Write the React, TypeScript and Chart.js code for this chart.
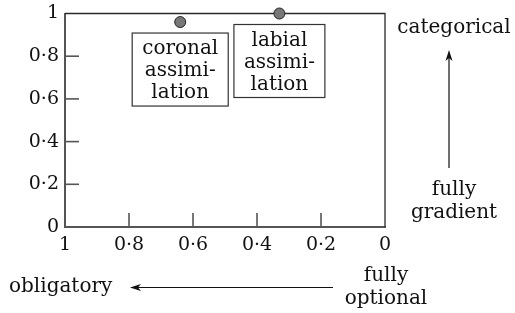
import React, { useEffect, useRef } from "react";
import { Chart, registerables } from "chart.js";

Chart.register(...registerables);

// ---- data ----
const processNames = ["coronal assimilation", "labial assimilation"];
const optionality = [0.64, 0.33]; // x: 1 = obligatory, 0 = fully optional
const categoricity = [0.96, 1.0]; // y: 1 = categorical, 0 = fully gradient
const boxLabels = [
  ["coronal", "assimi-", "lation"],
  ["labial", "assimi-", "lation"],
];
const innerTickValues = [0.2, 0.4, 0.6, 0.8];
const yPoleLabels = { top: ["categorical"], bottom: ["fully", "gradient"] };
const xPoleLabels = { left: ["obligatory"], right: ["fully", "optional"] };

const FONT = '"DejaVu Serif", "Liberation Serif", serif';
const TICK_SIZE = 19;
const TEXT_SIZE = 20;

const fmt = (v: number) => {
  const n = Number(Number(v).toFixed(1));
  return String(n).replace(".", "·");
};

function arrow(ctx: CanvasRenderingContext2D, x1: number, y1: number, x2: number, y2: number) {
  const ang = Math.atan2(y2 - y1, x2 - x1);
  const hl = 11;
  const hw = 3.5;
  const bx = x2 - Math.cos(ang) * hl;
  const by = y2 - Math.sin(ang) * hl;
  ctx.beginPath();
  ctx.moveTo(x1, y1);
  ctx.lineTo(bx + Math.cos(ang) * 3, by + Math.sin(ang) * 3);
  ctx.stroke();
  ctx.beginPath();
  ctx.moveTo(x2, y2);
  ctx.lineTo(bx - Math.sin(ang) * hw, by + Math.cos(ang) * hw);
  ctx.lineTo(bx + Math.cos(ang) * 3, by + Math.sin(ang) * 3);
  ctx.lineTo(bx + Math.sin(ang) * hw, by - Math.cos(ang) * hw);
  ctx.closePath();
  ctx.fill();
}

const decorPlugin = {
  id: "decor",
  beforeDatasetsDraw(chart: any) {
    const { ctx, chartArea: a, scales } = chart;
    const xs = scales.x;
    const ys = scales.y;
    ctx.save();
    // top & right frame
    ctx.strokeStyle = "#2a2a2a";
    ctx.lineWidth = 1.3;
    ctx.beginPath();
    ctx.moveTo(a.left, a.top);
    ctx.lineTo(a.right, a.top);
    ctx.lineTo(a.right, a.bottom);
    ctx.stroke();
    // inner ticks
    ctx.strokeStyle = "#555";
    ctx.lineWidth = 1.6;
    innerTickValues.forEach((v) => {
      const px = xs.getPixelForValue(v);
      ctx.beginPath();
      ctx.moveTo(px, a.bottom);
      ctx.lineTo(px, a.bottom - 14);
      ctx.stroke();
      const py = ys.getPixelForValue(v);
      ctx.beginPath();
      ctx.moveTo(a.left, py);
      ctx.lineTo(a.left + 14, py);
      ctx.stroke();
    });
    ctx.restore();
  },
  afterDatasetsDraw(chart: any) {
    const { ctx, chartArea: a, scales } = chart;
    const xs = scales.x;
    const ys = scales.y;
    ctx.save();
    ctx.font = `${TEXT_SIZE}px ${FONT}`;
    ctx.textAlign = "center";
    ctx.textBaseline = "alphabetic";
    // label boxes under each point
    processNames.forEach((_, i) => {
      const px = xs.getPixelForValue(optionality[i]);
      const py = ys.getPixelForValue(categoricity[i]);
      const lines = boxLabels[i];
      const w = Math.max(...lines.map((l) => ctx.measureText(l).width)) + 20;
      const h = 73;
      const top = py + 11;
      ctx.fillStyle = "#fff";
      ctx.fillRect(px - w / 2, top, w, h);
      ctx.strokeStyle = "#333";
      ctx.lineWidth = 1.2;
      ctx.strokeRect(px - w / 2, top, w, h);
      ctx.fillStyle = "#111";
      lines.forEach((l, j) => ctx.fillText(l, px, top + 21 + j * 22));
    });
    // pole labels and arrows
    const ax = a.right + 64;
    ctx.fillStyle = "#111";
    ctx.fillText(yPoleLabels.top[0], ax + 5, 33);
    yPoleLabels.bottom.forEach((l, j) => ctx.fillText(l, ax + 5, 195 + j * 23));
    ctx.strokeStyle = "#111";
    ctx.lineWidth = 1.2;
    arrow(ctx, ax, 168, ax, 50);
    ctx.textAlign = "left";
    ctx.fillText(xPoleLabels.left[0], 9, 292);
    ctx.textAlign = "center";
    xPoleLabels.right.forEach((l, j) => ctx.fillText(l, 386, 281 + j * 23));
    arrow(ctx, 333, 287.5, 130, 287.5);
    ctx.restore();
  },
};

export default function App() {
  const ref = useRef<HTMLCanvasElement>(null);
  useEffect(() => {
    if (!ref.current) return;
    const chart = new Chart(ref.current, {
      type: "scatter",
      data: {
        datasets: [
          {
            label: "processes",
            data: processNames.map((_, i) => ({ x: optionality[i], y: categoricity[i] })),
            backgroundColor: "#777",
            borderColor: "#222",
            borderWidth: 1,
            pointRadius: 5.5,
            clip: false as any,
          },
        ],
      },
      options: {
        animation: false,
        responsive: false,
        devicePixelRatio: 1,
        layout: { padding: { top: 13.5, right: 130, bottom: 0, left: 0 } },
        plugins: { legend: { display: false }, tooltip: { enabled: false } },
        scales: {
          x: {
            type: "linear",
            reverse: true,
            min: 0,
            max: 1,
            grid: { display: false, drawTicks: false },
            border: { display: true, color: "#555", width: 2 },
            ticks: {
              stepSize: 0.2,
              padding: 7,
              color: "#111",
              font: { family: FONT, size: TICK_SIZE },
              callback: (v: any) => fmt(v),
            },
            afterFit: (s: any) => {
              s.height = 86;
              s.paddingLeft = 0;
              s.paddingRight = 0;
            },
          },
          y: {
            type: "linear",
            min: 0,
            max: 1,
            grid: { display: false, drawTicks: false },
            border: { display: true, color: "#555", width: 2 },
            ticks: {
              stepSize: 0.2,
              padding: 6,
              color: "#111",
              font: { family: FONT, size: TICK_SIZE },
              callback: (v: any) => fmt(v),
            },
            afterFit: (s: any) => {
              s.width = 65;
              s.paddingTop = 0;
              s.paddingBottom = 0;
            },
          },
        },
      },
      plugins: [decorPlugin],
    });
    return () => chart.destroy();
  }, []);
  return (
    <div style={{ position: "fixed", left: 0, top: 0, width: 515, height: 313, background: "#fff" }}>
      <canvas ref={ref} width={515} height={313} style={{ width: 515, height: 313 }} />
    </div>
  );
}
